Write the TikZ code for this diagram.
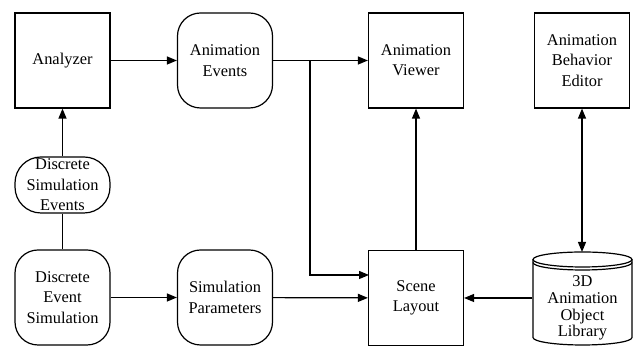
\documentclass[tikz,border=0pt]{standalone}
\usepackage{fontspec}
\setmainfont{Liberation Serif}
\usetikzlibrary{arrows.meta}
\begin{document}
\begin{tikzpicture}[x=0.5pt, y=0.5pt, line width=0.6pt,
    font=\fontsize{8.2}{10.2}\selectfont,
    box/.style={draw, align=center, minimum width=47.5pt, minimum height=47.5pt, inner sep=1pt},
    roundbox/.style={box, rounded corners=11.5pt},
    >={Triangle[length=5pt, width=4pt]}]
  \useasboundingbox (0,0) rectangle (633,347);
  % top row
  \node[box] (ana) at (62.5,286.5) {Analyzer};
  \node[roundbox] (aev) at (225,286.5) {Animation\\Events};
  \node[box] (avw) at (416,286.5) {Animation\\Viewer};
  \node[box] (abe) at (582,286.5) {Animation\\Behavior\\Editor};
  % middle
  \node[draw, align=center, minimum width=47.5pt, minimum height=28pt, inner sep=0pt,
        rounded corners=13pt] (dse) at (62.5,162) {Discrete\\Simulation\\Events};
  % bottom row
  \node[roundbox] (des) at (62.5,49.5) {Discrete\\Event\\Simulation};
  \node[roundbox] (spar) at (225,49.5) {Simulation\\Parameters};
  \node[box] (scl) at (416,49) {Scene\\Layout};
  % object library (cylinder)
  \draw (533,87.5) -- (533,9.5) arc[start angle=180, end angle=360, x radius=49.5, y radius=7.5] -- (632,87.5);
  \draw (582.5,87.5) ellipse[x radius=49.5, y radius=7.5];
  \draw (533,84.5) arc[start angle=180, end angle=360, x radius=49.5, y radius=7.5];
  \node[align=center, minimum width=49.5pt, inner sep=0pt,
        font=\fontsize{8.2}{8.4}\selectfont] (lib) at (582.5,39) {3D\\Animation\\Object\\Library};
  \coordinate (libtop) at (582.5,95);
  \coordinate (split) at (310,286.5);
  \coordinate (sclin) at (369,72);
  % connectors
  \draw[->] (ana) -- (aev);
  \draw[->] (aev) -- (avw);
  \draw[->] (split) |- (sclin);
  \draw[->] (dse) -- (ana);
  \draw (dse) -- (des);
  \draw[->] (des) -- (spar);
  \draw[->] (spar) -- (scl);
  \draw[->] (lib.west |- scl) -- (scl);
  \draw[->] (scl) -- (avw);
  \draw[<->] (abe.south) -- (abe.south |- libtop);
\end{tikzpicture}
\end{document}
